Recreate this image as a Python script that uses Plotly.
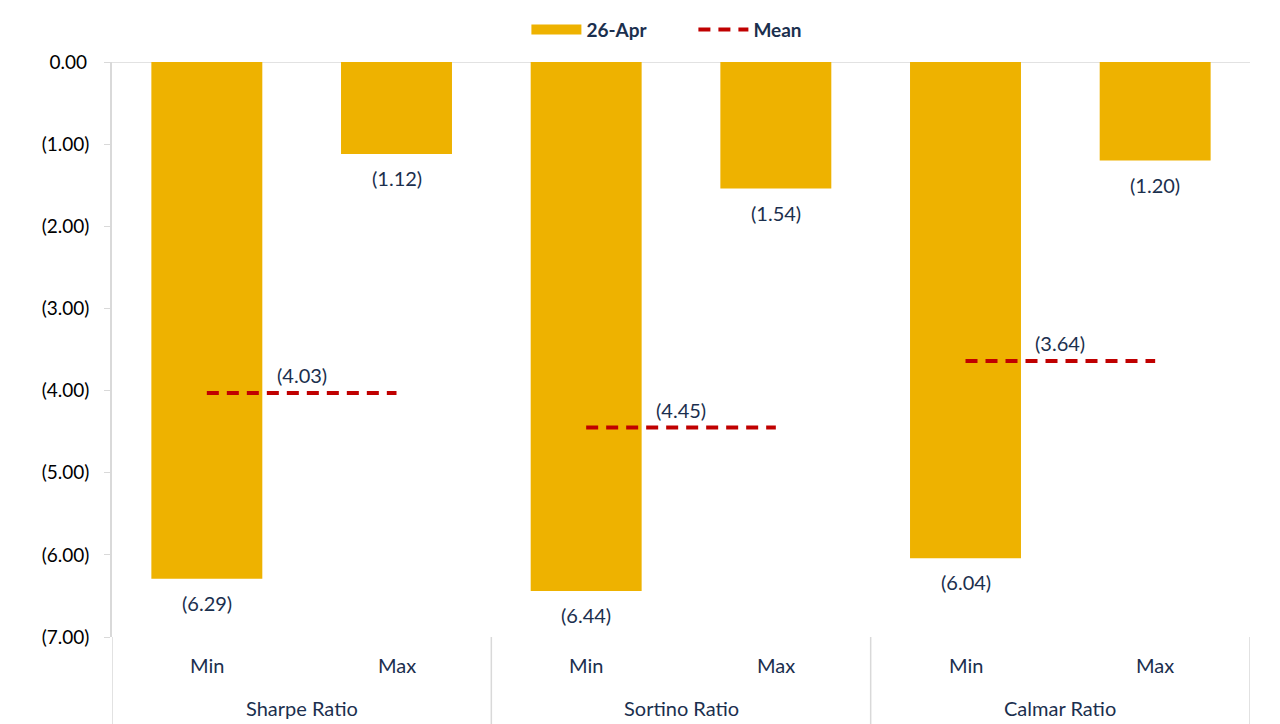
import plotly.graph_objects as go

groups = ["Sharpe Ratio", "Sharpe Ratio", "Sortino Ratio", "Sortino Ratio", "Calmar Ratio", "Calmar Ratio"]
stats = ["Min", "Max", "Min", "Max", "Min", "Max"]
apr26 = [-6.29, -1.12, -6.44, -1.54, -6.04, -1.20]

ratio_names = ["Sharpe Ratio", "Sortino Ratio", "Calmar Ratio"]
means = [-4.03, -4.45, -3.64]

yticks = [0, -1, -2, -3, -4, -5, -6, -7]

bar_col = "#EEB200"
mean_col = "#C00000"
navy = "#1B2F4E"
axis_col = "#D9D9D9"
font_fam = "Lato, 'Open Sans', sans-serif"


def acct(v):
    # excel style accounting number: negatives in brackets
    if v < 0:
        return "(%.2f)" % abs(v)
    return "%.2f\u2009" % v


fig = go.Figure()
fig.add_trace(go.Bar(
    x=[groups, stats], y=apr26, name="26-Apr",
    marker=dict(color=bar_col, line=dict(width=0)),
    showlegend=False,
))
# legend proxy for the bars (wide swatch like excel)
fig.add_trace(go.Scatter(
    x=[[groups[0]], [stats[0]]], y=[None], mode="lines", name="<b>26-Apr</b>",
    line=dict(color=bar_col, width=14),
))

for i, (g, m) in enumerate(zip(ratio_names, means)):
    fig.add_trace(go.Scatter(
        x=[[g, g], ["Min", "Max"]], y=[m, m], mode="lines", name="<b>Mean</b>",
        line=dict(color=mean_col, width=4, dash="12px,8px"),
        legendgroup="mean", showlegend=(i == 0),
    ))
    fig.add_annotation(
        x=2 * i + 0.5, y=m, text=acct(m), showarrow=False,
        yanchor="bottom", yshift=4,
        font=dict(color=navy, size=20, family=font_fam),
    )

# value labels under bars
for i, v in enumerate(apr26):
    fig.add_annotation(
        x=i, y=v, text=acct(v), showarrow=False,
        yanchor="top", yshift=-10,
        font=dict(color=navy, size=20, family=font_fam),
    )

# category labels (two levels) below the plot
for i, s in enumerate(stats):
    fig.add_annotation(
        x=i, xref="x", y=0, yref="paper", text=s, showarrow=False,
        yanchor="middle", yshift=-28,
        font=dict(color=navy, size=20, family=font_fam),
    )
for j, g in enumerate(ratio_names):
    fig.add_annotation(
        x=2 * j + 0.5, xref="x", y=0, yref="paper", text=g, showarrow=False,
        yanchor="middle", yshift=-71,
        font=dict(color=navy, size=20, family=font_fam),
    )

# group dividers
bounds = [-0.5] + [i + 0.5 for i in range(len(groups) - 1) if groups[i] != groups[i + 1]] + [len(groups) - 0.5]
for b in bounds:
    fig.add_shape(type="line", xref="x", yref="paper", x0=b, x1=b, y0=0, y1=-0.17,
                  line=dict(color=axis_col, width=1.5))

fig.add_shape(type="line", xref="paper", yref="y", x0=-0.0053, x1=1, y0=0, y1=0,
              line=dict(color=axis_col, width=1.5), layer="below")

fig.update_layout(
    width=1280, height=724,
    paper_bgcolor="white", plot_bgcolor="white",
    margin=dict(l=104, r=38, t=54, b=95, autoexpand=False),
    bargap=0.415,
    font=dict(family=font_fam, color=navy),
    legend=dict(orientation="h", x=0.405, xanchor="left", xref="container",
                y=0.970, yanchor="middle", yref="container",
                itemwidth=50, entrywidth=102, entrywidthmode="pixels",
                font=dict(size=19, color=navy, family=font_fam), traceorder="normal"),
)
fig.update_xaxes(
    type="multicategory", range=[-0.5, len(groups) - 0.5],
    showgrid=False, showline=False, ticks="", showticklabels=False,
    showdividers=False,
)
fig.update_yaxes(
    range=[-7, 0], tickvals=yticks, ticktext=[acct(v) for v in yticks],
    showgrid=False, zeroline=False,
    showline=True, linecolor=axis_col, linewidth=1.5,
    ticks="outside", ticklen=6, tickcolor=axis_col,
    ticklabelstandoff=11,
    tickfont=dict(size=19, color="black", family=font_fam),
)

fig.write_html("out.html")
